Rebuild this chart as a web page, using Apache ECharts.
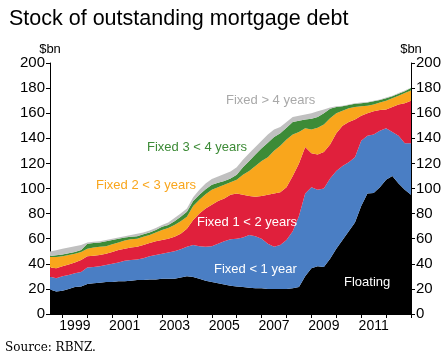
<!DOCTYPE html>
<html>
<head>
<meta charset="utf-8">
<script src="https://cdn.jsdelivr.net/npm/echarts@6/dist/echarts.min.js"></script>
<style>
html,body{margin:0;padding:0;background:#fff;}
#chart{width:447px;height:362px;}
</style>
</head>
<body>
<div id="chart"></div>
<script>
// Quarter-end categories, June 1998 to December 2012
var categories = [
 '1998Q2','1998Q3','1998Q4',
 '1999Q1','1999Q2','1999Q3','1999Q4',
 '2000Q1','2000Q2','2000Q3','2000Q4',
 '2001Q1','2001Q2','2001Q3','2001Q4',
 '2002Q1','2002Q2','2002Q3','2002Q4',
 '2003Q1','2003Q2','2003Q3','2003Q4',
 '2004Q1','2004Q2','2004Q3','2004Q4',
 '2005Q1','2005Q2','2005Q3','2005Q4',
 '2006Q1','2006Q2','2006Q3','2006Q4',
 '2007Q1','2007Q2','2007Q3','2007Q4',
 '2008Q1','2008Q2','2008Q3','2008Q4',
 '2009Q1','2009Q2','2009Q3','2009Q4',
 '2010Q1','2010Q2','2010Q3','2010Q4',
 '2011Q1','2011Q2','2011Q3','2011Q4',
 '2012Q1','2012Q2','2012Q3','2012Q4'
];
var xTickLabels = ['1999','2001','2003','2005','2007','2009','2011'];
var yTicks = [0,20,40,60,80,100,120,140,160,180,200];

var floating = [19.5,18,18.5,20,21.5,22,24,24.5,25,25.5,25.5,26,26,26.5,27,27,27.5,27.5,28,28,28,29,30,29.5,28,26.5,25.5,24.5,23.5,22.5,22,21.5,21,20.5,20.5,20,20,20,20,20.5,21.5,30,36.5,38,37.5,44,52,59,66,73,86,96,96.5,101,107,110,104,99,95];
var fixedLt1 = [10.2,10.5,11.5,11,11,11.5,13,13,13,13.5,14.5,15,16.5,16.5,16.5,17.5,18.5,19.5,20,21,22,22.5,23.5,25.5,26,27,28.5,31.5,34.5,37,38,39.5,42,41.5,39.5,36,33.5,35,39,45.5,56.5,66,64.5,61,62.5,64,62,59,55,52,52,46,46.5,45,41,35,38,37,41];
var fixed1to2 = [7.3,8,8,8.5,8.5,9.5,9,9,9,9,9.5,10,9.5,10,10,10.5,10.5,11,11,11,11.5,12.5,14.5,20,26,30.5,33,34,34,35.5,36,34,31,31.5,34,39,42.5,42,42,44,42,37,27,28,29,27,30,32,32,30,20,18,18.5,16.5,15,20,25,32,34];
var fixed2to3 = [8.5,9,8,7.5,7,6.5,6,6.5,6.5,6,6,6,6.5,6.5,6.5,6.5,6.5,7,8,8.5,9.5,10,9.5,11,11,11.5,12,11,11,10,11,16,20,24.5,28,30,34,37,38,33,25,15,19,21.5,22,21,16,12,11,10,7.5,6,5.5,6,7,7,7,8,8];
var fixed3to4 = [0.8,1.3,1.5,1.5,1.5,1.5,4,3.5,3.5,4,3.5,3,2.5,2,2,2,2,2,2.5,2.5,3,3.5,4,4,4,4,4,3.5,3,3,4,6,8,9,10,11.5,11,10,9.5,10,9,7,8.5,8.5,9,7.5,5,3.5,2.5,2.5,2.5,2.5,2.5,2,2,1.5,1.5,1.5,2];
var fixedGt4 = [3.5,4,4.5,4.5,4.5,4,1,1,1,1,1,1,1,1.5,2,1.5,1.5,1.5,1.5,2,2.5,2.5,2.5,3,4,4.5,4.5,5,5.5,5.5,6,6,6,6,6,6.5,6,5,4.5,4,4,4,4.5,4.5,3,1,0.5,0.5,0.5,0.5,0.5,0.5,0.5,0.5,0.5,0.5,0.5,0.5,0.5];

var seriesNames = ['Floating','Fixed < 1 year','Fixed 1 < 2 years','Fixed 2 < 3 years','Fixed 3 < 4 years','Fixed > 4 years'];
var seriesData = [floating, fixedLt1, fixed1to2, fixed2to3, fixed3to4, fixedGt4];
var seriesColors = ['#000000','#4a7ec4','#e0203c','#f9a61c','#3d8b37','#c0c0c0'];

var FONT = '"Liberation Sans", Arial, sans-serif';

function yAxisDef(pos){
  return {
    type:'value', position:pos, min:0, max:200, interval:20,
    name:'$bn', nameLocation:'end', nameGap:7,
    nameTextStyle:{color:'#000', fontFamily:FONT, fontSize:13, align:'center'},
    axisLine:{show:true, lineStyle:{color:'#000', width:1}},
    axisTick:{show:true, inside:false, length:4, lineStyle:{color:'#000'}},
    axisLabel:{color:'#000', fontFamily:FONT, fontSize:15, margin:5,
      formatter:function(v){ return yTicks.indexOf(v) >= 0 ? String(v) : ''; }},
    splitLine:{show:false}
  };
}

var chart = echarts.init(document.getElementById('chart'), null, {renderer:'canvas'});
chart.setOption({
  animation:false,
  backgroundColor:'#ffffff',
  title:{
    text:'Stock of outstanding mortgage debt', left:4, top:3,
    textStyle:{color:'#000', fontFamily:FONT, fontSize:21.5, fontWeight:'normal'}
  },
  grid:{left:50, right:36, top:63, bottom:48, containLabel:false},
  xAxis:{
    type:'category', data:categories, boundaryGap:false,
    axisLine:{show:true, lineStyle:{color:'#000'}},
    axisTick:{show:true, length:4, lineStyle:{color:'#000'},
      interval:function(i, v){ return /Q4$/.test(v); }},
    axisLabel:{color:'#000', fontFamily:FONT, fontSize:14, margin:5,
      interval:function(i, v){ return /Q2$/.test(v) && xTickLabels.indexOf(v.slice(0,4)) >= 0; },
      formatter:function(v){ return v.slice(0,4); }},
    splitLine:{show:false}
  },
  yAxis:[yAxisDef('left'), yAxisDef('right')],
  series: seriesNames.map(function(n, k){
    return {
      name:n, type:'line', stack:'total', data:seriesData[k],
      symbol:'none', smooth:false,
      lineStyle:{width:0, color:seriesColors[k]},
      itemStyle:{color:seriesColors[k]},
      areaStyle:{color:seriesColors[k], opacity:1},
      z:2
    };
  }),
  graphic:[
    {type:'text', left:226, top:94, z:10, style:{text:'Fixed > 4 years', fill:'#a9a9a9', font:'13px '+FONT}},
    {type:'text', left:147, top:141, z:10, style:{text:'Fixed 3 < 4 years', fill:'#3d8b37', font:'13px '+FONT}},
    {type:'text', left:96, top:179, z:10, style:{text:'Fixed 2 < 3 years', fill:'#f9a61c', font:'13px '+FONT}},
    {type:'text', left:197, top:216, z:10, style:{text:'Fixed 1 < 2 years', fill:'#ffffff', font:'13px '+FONT}},
    {type:'text', left:214, top:263, z:10, style:{text:'Fixed < 1 year', fill:'#ffffff', font:'13px '+FONT}},
    {type:'text', left:344, top:276, z:10, style:{text:'Floating', fill:'#ffffff', font:'13px '+FONT}},
    {type:'text', left:5, top:342, z:10, style:{text:'Source: RBNZ.', fill:'#000', font:'12px "DejaVu Serif", serif'}}
  ]
});
</script>
</body>
</html>
